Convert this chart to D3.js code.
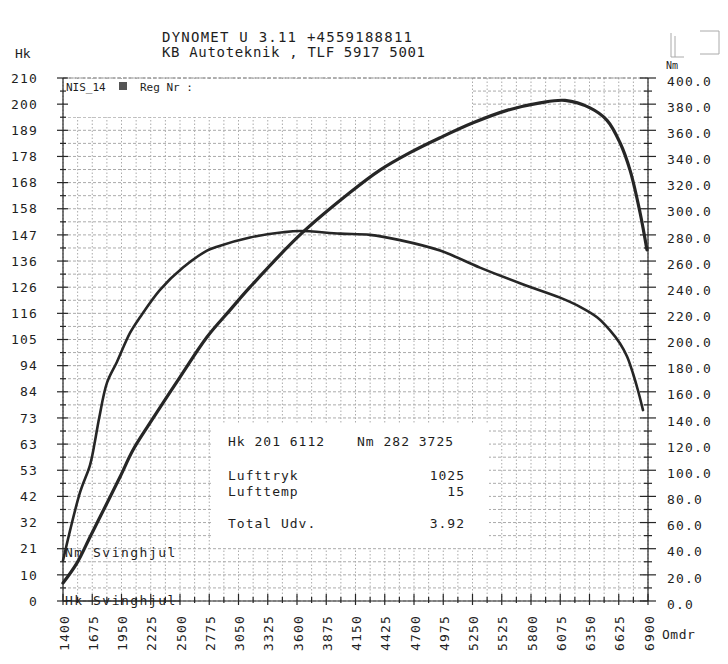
<!DOCTYPE html>
<html><head><meta charset="utf-8">
<script src="https://cdn.jsdelivr.net/npm/d3@7"></script>
<style>
body{margin:0;background:#fff}
text{font-family:"DejaVu Sans Mono","Liberation Mono",monospace;fill:#1e1e1e}
</style>
</head><body>
<svg id="c" width="728" height="664"></svg>
<script>
// ---- data ----
const titleLines = ["DYNOMET U 3.11 +4559188811", "KB Autoteknik , TLF 5917 5001"];
const hkLabels = ["0","10","21","32","42","53","63","73","84","94","105","116","126","136","147","158","168","178","189","200","210"];
const nmLabels = ["0.0","20.0","40.0","60.0","80.0","100.0","120.0","140.0","160.0","180.0","200.0","220.0","240.0","260.0","280.0","300.0","320.0","340.0","360.0","380.0","400.0"];
const rpmLabels = [1400,1675,1950,2225,2500,2775,3050,3325,3600,3875,4150,4425,4700,4975,5250,5525,5800,6075,6350,6625,6900];

const torqueRpm = [1400,1560,1654,1700,1740,1814,1908,2030,2124,2312,2528,2754,2848,3158,3468,3628,4004,4286,4568,4945,5320,5697,6073,6261,6421,6543,6637,6703,6759,6806,6853];
const torqueNm  = [31,  83,  104, 122, 140, 167, 183, 205, 217, 238, 255, 268, 271, 278, 282, 283, 281, 280, 276, 268, 255, 243, 232, 225, 217, 207, 197, 187, 174, 161, 146];

const powerRpm = [1400,1532,1654,1748,1936,2058,2218,2500,2754,2970,3158,3628,4098,4380,4662,4945,5255,5574,5885,6120,6355,6515,6637,6731,6825,6890];
const powerHk  = [7.2, 15.3,25.7,33.7,49.8,60.6,71.5,89.9,106, 116.8,126, 147, 164, 173, 180, 186, 192, 197, 200, 201, 198, 193, 184, 173, 156, 141];

const infoRows = [
  ["Hk 201 6112", "Nm 282  3725"],
  ["Lufttryk", "1025"],
  ["Lufttemp", "15"],
  ["Total Udv.", "3.92"]
];

// ---- layout ----
const svg = d3.select("#c");
const X0 = 63, X1 = 648, YT = 78, YB = 601;
const x = d3.scaleLinear().domain([1400, 6900]).range([X0, X1]);
const yHk = d3.scaleLinear().domain([0, 210]).range([YB, YT]);
const yNm = d3.scaleLinear().domain([0, 400]).range([YB, YT]);
const ink = "#262626";

svg.append("rect").attr("width", 728).attr("height", 664).attr("fill", "#fff");

// grid
const g = svg.append("g").attr("stroke", "#ababab").attr("stroke-width", 1);
d3.range(0, 210.01, 5.25).forEach(v => {
  g.append("line").attr("x1", X0).attr("x2", X1).attr("y1", yHk(v)).attr("y2", yHk(v))
    .attr("stroke-dasharray", "3,2");
});
d3.range(1400, 6900.01, 137.5).forEach(v => {
  g.append("line").attr("x1", x(v)).attr("x2", x(v)).attr("y1", YT).attr("y2", YB)
    .attr("stroke-dasharray", "1.5,2");
});

// white boxes
svg.append("rect").attr("x", X0 + 1).attr("y", YT + 1).attr("width", 408).attr("height", 38).attr("fill", "#fff");
svg.append("rect").attr("x", 213).attr("y", 424).attr("width", 276).attr("height", 124).attr("fill", "#fff");

// top border (dashed)
svg.append("line").attr("x1", X0).attr("x2", X1).attr("y1", YT).attr("y2", YT)
  .attr("stroke", "#888").attr("stroke-dasharray", "4,2");

// axes lines
const ax = svg.append("g").attr("stroke", ink).attr("stroke-width", 1.2);
ax.append("line").attr("x1", X0).attr("x2", X0).attr("y1", YT).attr("y2", YB);
ax.append("line").attr("x1", X1).attr("x2", X1).attr("y1", YT).attr("y2", YB);
ax.append("line").attr("x1", X0).attr("x2", X1).attr("y1", YB).attr("y2", YB);

// ticks
hkLabels.forEach((l, i) => {
  const yy = yHk(i * 10.5);
  ax.append("line").attr("x1", X0 - 6).attr("x2", X0 + 5).attr("y1", yy).attr("y2", yy);
  if (i < 20) {
    const ym = yHk(i * 10.5 + 5.25);
    ax.append("line").attr("x1", X0 - 3).attr("x2", X0 + 3).attr("y1", ym).attr("y2", ym);
  }
  svg.append("text").attr("x", 38).attr("y", yy).attr("dy", "0.36em")
    .attr("text-anchor", "end").attr("font-size", 13).attr("letter-spacing", 1.2).text(l);
});
nmLabels.forEach((l, i) => {
  const yy = yNm(i * 20);
  ax.append("line").attr("x1", X1 - 8).attr("x2", X1 + 8).attr("y1", yy).attr("y2", yy);
  if (i < 20) {
    const ym = yNm(i * 20 + 10);
    ax.append("line").attr("x1", X1 - 4).attr("x2", X1 + 4).attr("y1", ym).attr("y2", ym);
  }
  svg.append("text").attr("x", 667).attr("y", yy + 3).attr("dy", "0.36em")
    .attr("font-size", 13).attr("letter-spacing", 1.2).text(l);
});
rpmLabels.forEach((r, i) => {
  const xx = x(r);
  ax.append("line").attr("x1", xx).attr("x2", xx).attr("y1", YB - 7).attr("y2", YB + 4);
  if (i < 20) {
    const xm = x(r + 137.5);
    ax.append("line").attr("x1", xm).attr("x2", xm).attr("y1", YB - 4).attr("y2", YB + 2);
  }
  svg.append("text").attr("transform", `translate(${xx + 1},651) rotate(-90)`)
    .attr("dy", "0.36em").attr("font-size", 13).attr("letter-spacing", 1.2).text(r);
});

// curves
const lineT = d3.line().x((d, i) => x(torqueRpm[i])).y(d => yNm(d)).curve(d3.curveCatmullRom.alpha(0.5));
const lineP = d3.line().x((d, i) => x(powerRpm[i])).y(d => yHk(d)).curve(d3.curveCatmullRom.alpha(0.5));

// labels under curves
svg.append("text").attr("x", 65).attr("y", 557).attr("font-size", 13).attr("letter-spacing", 1.5).text("Nm Svinghjul");
svg.append("text").attr("x", 65).attr("y", 605).attr("font-size", 13).attr("letter-spacing", 1.5).attr("fill", "#555").text("Hk Svinghjul");
svg.append("line").attr("x1", X0).attr("x2", 180).attr("y1", YB).attr("y2", YB).attr("stroke", ink).attr("stroke-width", 1.2);

svg.append("path").attr("d", lineT(torqueNm)).attr("fill", "none").attr("stroke", ink).attr("stroke-width", 2.6).attr("stroke-linecap", "round");
svg.append("path").attr("d", lineP(powerHk)).attr("fill", "none").attr("stroke", ink).attr("stroke-width", 3.2).attr("stroke-linecap", "round");

// header texts
svg.append("text").attr("x", 162).attr("y", 42).attr("font-size", 14).attr("textLength", 250).text(titleLines[0]);
svg.append("text").attr("x", 162).attr("y", 57).attr("font-size", 14).attr("textLength", 263).text(titleLines[1]);
svg.append("text").attr("x", 15).attr("y", 58).attr("font-size", 13).text("Hk");
svg.append("text").attr("x", 666).attr("y", 69).attr("font-size", 10).attr("fill", "#555").text("Nm");
svg.append("text").attr("x", 662).attr("y", 639).attr("font-size", 13).attr("letter-spacing", 0.5).text("Omdr");
svg.append("text").attr("x", 66).attr("y", 91).attr("font-size", 11).attr("fill", "#555").text("NIS_14");
svg.append("rect").attr("x", 119).attr("y", 82).attr("width", 8).attr("height", 8).attr("fill", "#555");
svg.append("text").attr("x", 140).attr("y", 91).attr("font-size", 11).attr("fill", "#555").text("Reg Nr :");

// top-right decorations
const dec = svg.append("g").attr("stroke", "#aaa").attr("fill", "none");
dec.append("path").attr("d", "M671,33 L671,57 M675,36 L675,57 M671,57 L684,57");
dec.append("path").attr("d", "M700,31 L719,31 L719,54 L700,54");

// info box
const rowY = [446, 480, 496, 528];
infoRows.forEach((row, i) => {
  svg.append("text").attr("x", 228).attr("y", rowY[i]).attr("font-size", 13).attr("letter-spacing", 1).text(row[0]);
  if (i === 0) {
    svg.append("text").attr("x", 357).attr("y", rowY[i]).attr("font-size", 13).attr("letter-spacing", 1).text(row[1]);
  } else {
    svg.append("text").attr("x", 465).attr("y", rowY[i]).attr("font-size", 13).attr("letter-spacing", 1).attr("text-anchor", "end").text(row[1]);
  }
});
</script>
</body></html>
